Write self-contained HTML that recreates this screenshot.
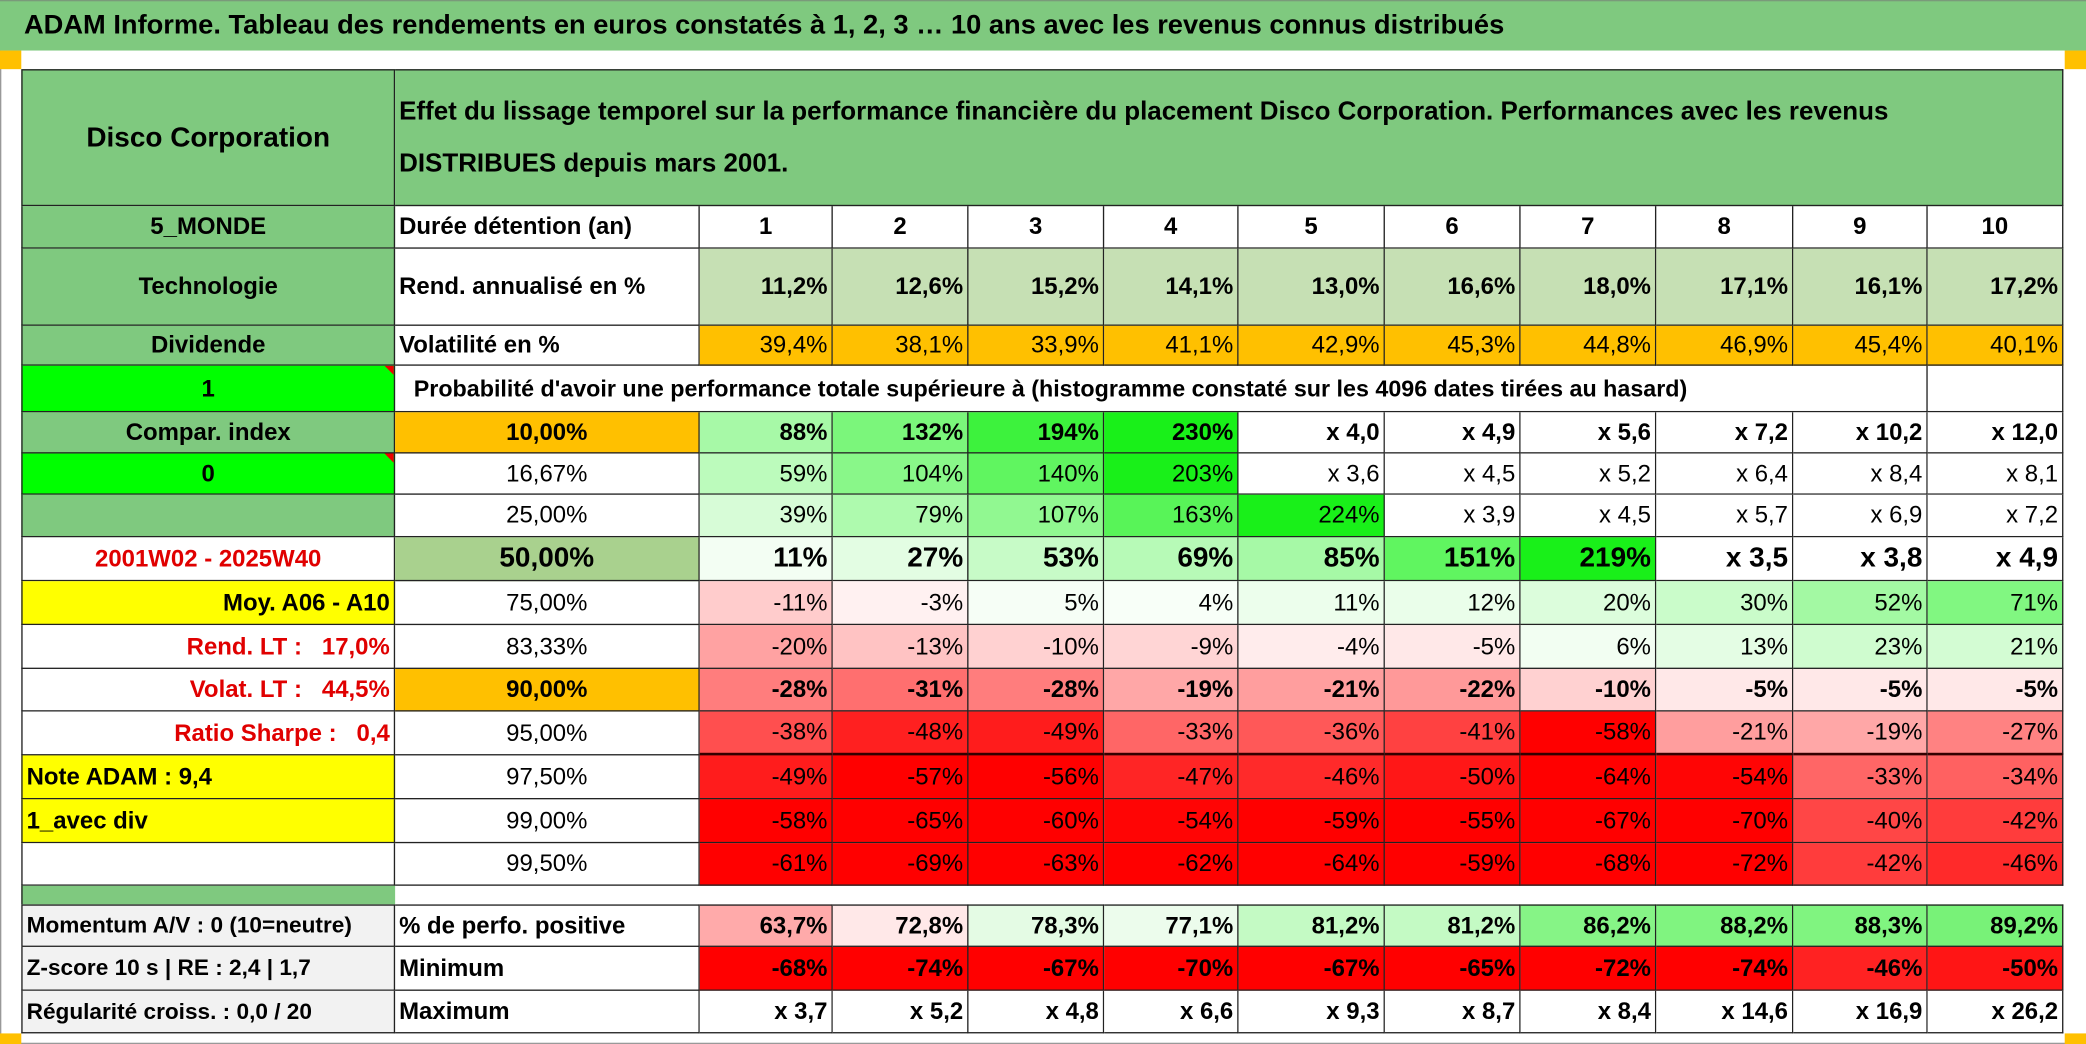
<!DOCTYPE html>
<html><head><meta charset="utf-8">
<style>
html,body{margin:0;padding:0;background:#fff;}
body{width:2086px;height:1044px;overflow:hidden;position:relative;}
#wrap{position:absolute;left:0;top:0;width:1568px;height:785px;transform:scale(1.33036,1.33);transform-origin:0 0;font-family:"Liberation Sans Narrow","Liberation Sans",sans-serif;color:#000;}
.c{position:absolute;box-sizing:border-box;border-right:1px solid #222;border-bottom:1px solid #222;display:flex;align-items:center;white-space:nowrap;overflow:hidden;font-size:18px;}
.ctr{justify-content:center;}
.rt{justify-content:flex-end;padding-right:3px;}
.lt{justify-content:flex-start;padding-left:3px;}
.b{font-weight:bold;}
.tri{position:absolute;right:0;top:0;width:0;height:0;border-left:7px solid transparent;border-top:7px solid #e00;}
</style></head><body>
<div id="wrap">
<div style="position:absolute;left:0;top:0;width:1568px;height:38px;background:#7fc97f;border-top:1px solid #7a9a7a;box-sizing:border-box;"></div>
<div style="position:absolute;left:18px;top:7px;font-size:20.5px;font-weight:bold;">ADAM Informe. Tableau des rendements en euros constatés à 1, 2, 3 … 10 ans avec les revenus connus distribués</div>
<div style="position:absolute;left:0;top:38px;width:1px;height:747px;background:#999;"></div>
<div style="position:absolute;left:0;top:784px;width:1568px;height:1px;background:#999;"></div>
<div style="position:absolute;left:0;top:38px;width:16px;height:14px;background:#ffc000;"></div>
<div style="position:absolute;left:1552px;top:38px;width:16px;height:14px;background:#ffc000;"></div>
<div style="position:absolute;left:0;top:777px;width:16px;height:8px;background:#ffc000;"></div>
<div style="position:absolute;left:1552px;top:777px;width:16px;height:8px;background:#ffc000;"></div>
<div id="grid" style="position:absolute;left:0;top:0;"></div>
</div>
<script>
const X=[16,297,526,626,728,830,931,1041,1143,1245,1348,1449,1551];
const Y=[52,155,187,245,275,310,341,372,404,437,470,503,535,568,601,634,666,680,712,745,777];
const years=["1","2","3","4","5","6","7","8","9","10"];
const rend=["11,2%","12,6%","15,2%","14,1%","13,0%","16,6%","18,0%","17,1%","16,1%","17,2%"];
const vol=["39,4%","38,1%","33,9%","41,1%","42,9%","45,3%","44,8%","46,9%","45,4%","40,1%"];
const probLabels=["10,00%","16,67%","25,00%","50,00%","75,00%","83,33%","90,00%","95,00%","97,50%","99,00%","99,50%"];
const probRows=[
["88%","132%","194%","230%","x 4,0","x 4,9","x 5,6","x 7,2","x 10,2","x 12,0"],
["59%","104%","140%","203%","x 3,6","x 4,5","x 5,2","x 6,4","x 8,4","x 8,1"],
["39%","79%","107%","163%","224%","x 3,9","x 4,5","x 5,7","x 6,9","x 7,2"],
["11%","27%","53%","69%","85%","151%","219%","x 3,5","x 3,8","x 4,9"],
["-11%","-3%","5%","4%","11%","12%","20%","30%","52%","71%"],
["-20%","-13%","-10%","-9%","-4%","-5%","6%","13%","23%","21%"],
["-28%","-31%","-28%","-19%","-21%","-22%","-10%","-5%","-5%","-5%"],
["-38%","-48%","-49%","-33%","-36%","-41%","-58%","-21%","-19%","-27%"],
["-49%","-57%","-56%","-47%","-46%","-50%","-64%","-54%","-33%","-34%"],
["-58%","-65%","-60%","-54%","-59%","-55%","-67%","-70%","-40%","-42%"],
["-61%","-69%","-63%","-62%","-64%","-59%","-68%","-72%","-42%","-46%"]];
const rowGreenMax=[230,203,224,219,130,110,100,100,100,100,100];
const posPct=["63,7%","72,8%","78,3%","77,1%","81,2%","81,2%","86,2%","88,2%","88,3%","89,2%"];
const posColors=["#ffaaaa","#ffe8e8","#e4fbe4","#ecfcec","#c4fac4","#c4fac4","#86f486","#80f480","#80f480","#78f278"];
const minimum=["-68%","-74%","-67%","-70%","-67%","-65%","-72%","-74%","-46%","-50%"];
const minColors=["#ff0000","#ff0000","#ff0000","#ff0000","#ff0000","#ff0000","#ff0000","#ff0000","#ff2222","#ff1515"];
const maximum=["x 3,7","x 5,2","x 4,8","x 6,6","x 9,3","x 8,7","x 8,4","x 14,6","x 16,9","x 26,2"];

const g=document.getElementById('grid');
function cell(c0,c1,r0,r1,txt,cls,bg,extra,name){
  const d=document.createElement('div');
  d.className='c '+(cls||'');
  d.style.left=X[c0]+'px';d.style.width=(X[c1]-X[c0])+'px';
  d.style.top=Y[r0]+'px';d.style.height=(Y[r1]-Y[r0])+'px';
  if(bg)d.style.background=bg;
  if(extra)Object.assign(d.style,extra);
  d.textContent=txt;
  
  
  g.appendChild(d);return d;
}
function valColor(s,ri){
  if(s.startsWith('x'))return '#fff';
  const v=parseFloat(s.replace(',','.'));
  if(v<0){const t=Math.min(1,-v/55);const k=Math.round(255*(1-t));return `rgb(255,${k},${k})`;}
  const t=Math.min(1,v/rowGreenMax[ri]);const k=Math.round(255-230*t);return `rgb(${k},${Math.round(255-15*t)},${k})`;
}
const GR='#7fc97f';
let d=cell(0,1,0,1,'Disco Corporation','ctr b',GR,{fontSize:'21px',borderLeft:'1px solid #222',borderTop:'1px solid #222'},'company-name');
d=cell(1,12,0,1,'','lt b',GR,{borderTop:'1px solid #222',whiteSpace:'normal',fontSize:'19.5px',lineHeight:'39px',alignItems:'center'},'table-description');
d.textContent='Effet du lissage temporel sur la performance financière du placement Disco Corporation. Performances avec les revenus DISTRIBUES depuis mars 2001.';
d.style.paddingRight='70px';
const colA=[["5_MONDE",GR,'ctr b',null],["Technologie",GR,'ctr b',null],["Dividende",GR,'ctr b',null],["1","#00ff00",'ctr b','tri'],["Compar. index",GR,'ctr b',null],["0","#00ff00",'ctr b','tri'],["",GR,'ctr',null],
["2001W02 - 2025W40","#fff",'ctr b',{color:'#e00000'}],["Moy. A06 - A10","#ffff00",'rt b',null],["Rend. LT :   17,0%","#fff",'rt b',{color:'#e00000'}],["Volat. LT :   44,5%","#fff",'rt b',{color:'#e00000'}],["Ratio Sharpe :   0,4","#fff",'rt b',{color:'#e00000'}],
["Note ADAM : 9,4","#ffff00",'lt b',null],["1_avec div","#ffff00",'lt b',null],["","#fff",'',null]];
colA.forEach((a,i)=>{
  const ex={borderLeft:'1px solid #222',whiteSpace:'pre'};
  if(a[3]&&a[3]!=='tri')Object.assign(ex,a[3]);
  const el=cell(0,1,i+1,i+2,a[0],a[2],a[1],ex,'side-label-'+(i+1));
  if(a[3]==='tri'){const t=document.createElement('div');t.className='tri';

el.appendChild(t);}
});
cell(1,2,1,2,'Durée détention (an)','lt b',null,null,'duration-label');
cell(1,2,2,3,'Rend. annualisé en %','lt b',null,null,'return-label');
cell(1,2,3,4,'Volatilité en %','lt b',null,null,'volatility-label');
cell(1,11,4,5,"Probabilité d'avoir une performance totale supérieure à (histogramme constaté sur les 4096 dates tirées au hasard)",'lt b',null,{paddingLeft:'14px',fontSize:'17.5px'},'probability-caption');
cell(11,12,4,5,'','',null,null,'blank-cell');
years.forEach((y,i)=>cell(i+2,i+3,1,2,y,'ctr b',null,null,'year-'+y));
rend.forEach((v,i)=>cell(i+2,i+3,2,3,v,'rt b','#c6e0b4',null,'return-'+years[i]));
vol.forEach((v,i)=>cell(i+2,i+3,3,4,v,'rt','#ffc000',null,'volatility-'+years[i]));
const boldRows=[0,3,6];
probLabels.forEach((p,ri)=>{
  const r=ri+5;
  let bg=null,cls='ctr',ex=null;
  if(ri===0||ri===6){bg='#ffc000';cls='ctr b';}
  if(ri===3){bg='#a9d18e';cls='ctr b';ex={fontSize:'21px'};}
  cell(1,2,r,r+1,p,cls,bg,ex,'threshold-'+ri);
  probRows[ri].forEach((v,ci)=>{
    const e={};
    if(ri===3)e.fontSize='21px';
    if(ri===7)e.borderBottom='2px solid #300';
    cell(ci+2,ci+3,r,r+1,v,'rt'+(boldRows.includes(ri)?' b':''),valColor(v,ri),e,'prob-r'+ri+'-y'+years[ci]);
  });
});
cell(0,1,16,17,'',null,GR,{borderLeft:'1px solid #222',borderRight:'none',borderBottom:'none'},'separator-bar');
const bottomA=["Momentum A/V : 0 (10=neutre)","Z-score 10 s | RE : 2,4 | 1,7","Régularité croiss. : 0,0 / 20"];
const bottomB=["% de perfo. positive","Minimum","Maximum"];
bottomA.forEach((t,i)=>{
  const ex={borderLeft:'1px solid #222',fontSize:'17px'};
  if(i===0)ex.borderTop='1px solid #222';
  cell(0,1,17+i,18+i,t,'lt b','#f2f2f2',ex,'metric-'+i);
  const ex2=i===0?{borderTop:'1px solid #222'}:null;
  cell(1,2,17+i,18+i,bottomB[i],'lt b',null,ex2,'stat-label-'+i);
});
posPct.forEach((v,i)=>cell(i+2,i+3,17,18,v,'rt b',posColors[i],{borderTop:'1px solid #222'},'positive-'+years[i]));
minimum.forEach((v,i)=>cell(i+2,i+3,18,19,v,'rt b',minColors[i],null,'minimum-'+years[i]));
maximum.forEach((v,i)=>cell(i+2,i+3,19,20,v,'rt b','#fff',null,'maximum-'+years[i]));
</script>
</body></html>
